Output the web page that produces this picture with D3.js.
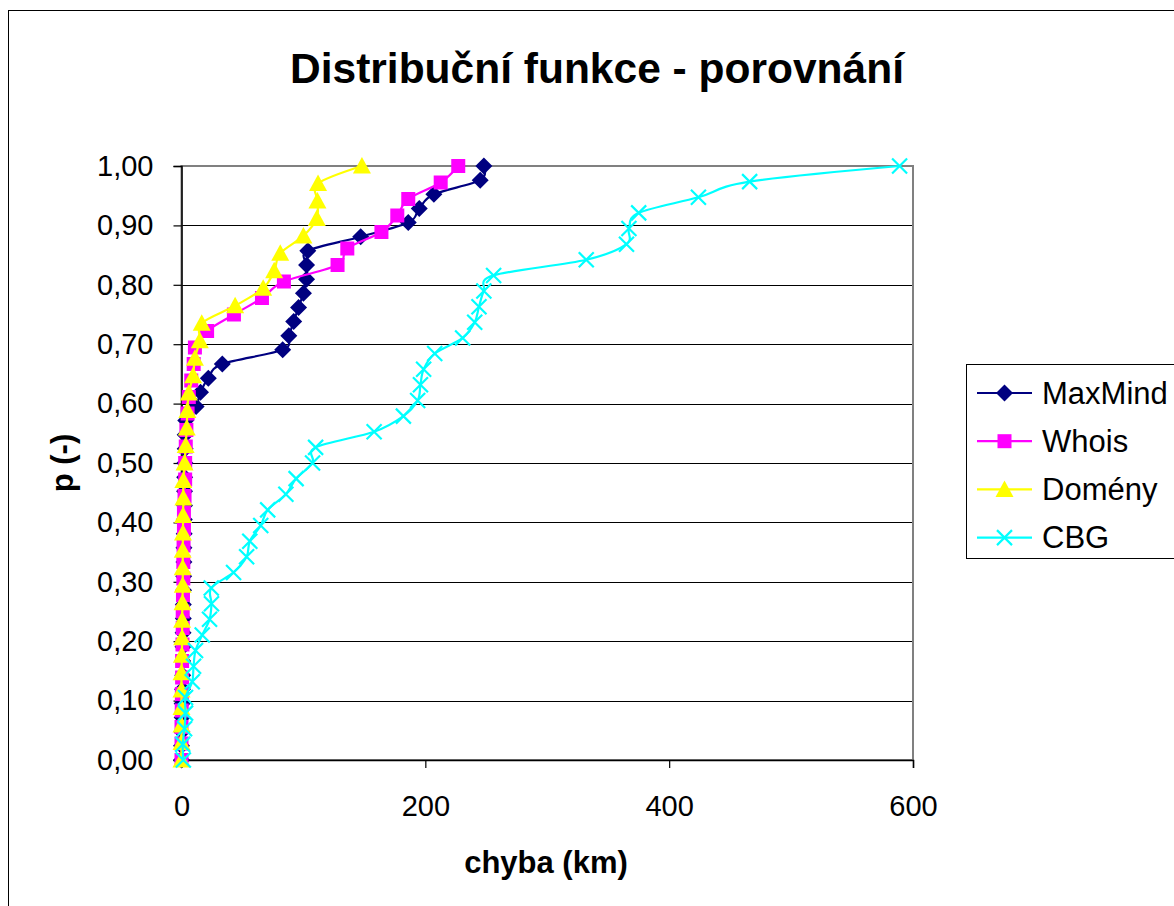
<!DOCTYPE html>
<html>
<head>
<meta charset="utf-8">
<script src="https://cdn.jsdelivr.net/npm/d3@7"></script>
<style>
  body { margin: 0; background: #fff; }
  svg text { font-family: "Liberation Sans", Arial, sans-serif; }
</style>
</head>
<body>
<div id="chart"></div>
<script>
// error (km) values of each series, sorted; p = i / (n - 1)
var maxmind = [0, 0, 0.3, 0.5, 0.5, 0.8, 1, 1, 1.2, 1.3, 1.5, 1.5, 1.7, 1.8, 2, 2, 2.2, 2.3, 2.5, 2.5, 2.6, 2.8, 3, 3, 3.5,
               12, 15.6, 22, 33.5, 83, 88, 92, 96, 100, 102.6, 102.6, 103.6, 147, 186, 195, 207, 245, 248];
var whois = [0, 0, 0, 0.2, 0.3, 0.5, 0.5, 0.8, 1, 1, 1.2, 1.5, 1.5, 1.7, 2, 2, 2.5, 3, 3, 3.5, 4, 5, 6, 8, 10,
             11, 21, 43, 66, 84, 128, 136, 164, 177, 186, 212.6, 227];
var domeny = [0, 0, 0, 0, 0, 0, 0.3, 0.5, 0.5, 0.8, 1, 1, 1, 1.2, 1.3, 1.5, 1.5, 2.5, 3.4, 4.3, 4.8, 6, 9.5, 11, 15,
              16.6, 44, 67, 76, 81, 100, 111, 111.5, 112, 148];
var cbg = [1.5, 1, 2.5, 3.3, 3.3, 8.8, 9.9, 11.5, 17, 23, 24.6, 24.4, 42.7, 53.4, 56, 65, 70.7, 85.6, 94, 107.5,
           110, 158, 182, 193.7, 196, 198.6, 207.7, 230.6, 240.5, 244, 248, 256, 332, 365, 367, 375, 424, 466, 589];

var seriesNames = ["MaxMind", "Whois", "Domény", "CBG"];
var seriesColors = ["#000080", "#FF00FF", "#FFFF00", "#00FFFF"];
var seriesValues = [maxmind, whois, domeny, cbg];

var xTicks = [0, 200, 400, 600];
var yTicks = [0, 0.1, 0.2, 0.3, 0.4, 0.5, 0.6, 0.7, 0.8, 0.9, 1.0];

var width = 1174, height = 906;
var plot = {left: 181.5, right: 913, top: 166, bottom: 760};

var svg = d3.select("#chart").append("svg")
  .attr("width", width)
  .attr("height", height);

// outer chart border
svg.append("rect")
  .attr("x", 8.5).attr("y", 10.5)
  .attr("width", width + 20).attr("height", height + 20)
  .style("fill", "#fff")
  .style("stroke", "#000")
  .style("stroke-width", 1);

svg.append("text")
  .attr("x", 597).attr("y", 83)
  .attr("text-anchor", "middle")
  .style("font-size", "42.5px")
  .style("font-weight", "bold")
  .text("Distribuční funkce - porovnání");

var x = d3.scaleLinear().domain([0, 600]).range([plot.left, plot.right]);
var y = d3.scaleLinear().domain([0, 1]).range([plot.bottom, plot.top]);

// gridlines
svg.append("g")
  .selectAll("line")
  .data(yTicks.slice(1, -1))
  .enter()
  .append("line")
  .attr("x1", plot.left).attr("x2", plot.right)
  .attr("y1", d => Math.round(y(d)) + 0.5).attr("y2", d => Math.round(y(d)) + 0.5)
  .style("stroke", "#000")
  .style("stroke-width", 1.2);

// plot area frame
svg.append("rect")
  .attr("x", plot.left).attr("y", plot.top)
  .attr("width", plot.right - plot.left).attr("height", plot.bottom - plot.top)
  .style("fill", "none")
  .style("stroke", "#808080")
  .style("stroke-width", 2);

var yAxis = svg.append("g")
  .attr("transform", "translate(" + plot.left + ",0)")
  .call(d3.axisLeft(y).tickValues(yTicks).tickSize(8).tickPadding(20)
    .tickFormat(d => d3.format(".2f")(d).replace(".", ",")));

var xAxis = svg.append("g")
  .attr("transform", "translate(0," + plot.bottom + ")")
  .call(d3.axisBottom(x).tickValues(xTicks).tickSize(8).tickPadding(27).tickFormat(d3.format("d")));

[xAxis, yAxis].forEach(function(a){
  a.select(".domain").style("stroke", "#000").style("stroke-width", 1.5);
  a.selectAll(".tick line").style("stroke", "#000").style("stroke-width", 1.2);
  a.selectAll("text")
    .style("font-size", "29px")
    .style("fill", "#000")
    .style("font-family", "'Liberation Sans', Arial, sans-serif");
});

svg.append("text")
  .attr("x", 546).attr("y", 873)
  .attr("text-anchor", "middle")
  .style("font-size", "31px")
  .style("font-weight", "bold")
  .text("chyba (km)");

svg.append("text")
  .attr("transform", "translate(73,463) rotate(-90)")
  .attr("text-anchor", "middle")
  .style("font-size", "31px")
  .style("font-weight", "bold")
  .text("p (-)");

// marker shapes
function marker(g, idx, color){
  if (idx == 0) {
    g.append("path").attr("d", "M0,-8.5L8.5,0L0,8.5L-8.5,0Z").style("fill", color);
  } else if (idx == 1) {
    g.append("rect").attr("x", -7).attr("y", -7).attr("width", 14).attr("height", 14).style("fill", color);
  } else if (idx == 2) {
    g.append("path").attr("d", "M0,-9L9,7.5L-9,7.5Z").style("fill", color);
  } else {
    g.append("path").attr("d", "M-7.5,-7.5L7.5,7.5M-7.5,7.5L7.5,-7.5")
      .style("stroke", color).style("stroke-width", 2.2).style("fill", "none");
  }
}

var line = d3.line()
  .x(d => x(d[0]))
  .y(d => y(d[1]))
  .curve(d3.curveCatmullRom.alpha(0));

seriesValues.forEach(function(vals, s){
  var n = vals.length - 1;
  var pts = vals.map((v, i) => [v, i / n]);

  svg.append("path")
    .datum(pts)
    .attr("d", line)
    .style("fill", "none")
    .style("stroke", seriesColors[s])
    .style("stroke-width", 2.2);

  svg.append("g")
    .selectAll("g")
    .data(pts)
    .enter()
    .append("g")
    .attr("transform", d => "translate(" + x(d[0]) + "," + y(d[1]) + ")")
    .each(function(){ marker(d3.select(this), s, seriesColors[s]); });
});

// legend
var legend = svg.append("g").attr("transform", "translate(966,364)");

legend.append("rect")
  .attr("x", 0.5).attr("y", 0.5)
  .attr("width", 240).attr("height", 194)
  .style("fill", "#fff")
  .style("stroke", "#000")
  .style("stroke-width", 1);

var rows = legend.selectAll(".row")
  .data(seriesNames)
  .enter()
  .append("g")
  .attr("class", "row")
  .attr("transform", (d, i) => "translate(0," + (29 + i * 48.2) + ")");

rows.append("line")
  .attr("x1", 11).attr("x2", 66)
  .style("stroke", (d, i) => seriesColors[i])
  .style("stroke-width", 2.2);

rows.each(function(d, i){
  var g = d3.select(this).append("g").attr("transform", "translate(38.5,0)");
  marker(g, i, seriesColors[i]);
});

rows.append("text")
  .attr("x", 76)
  .attr("dy", "0.35em")
  .style("font-size", "31px")
  .text(d => d);
</script>
</body>
</html>
